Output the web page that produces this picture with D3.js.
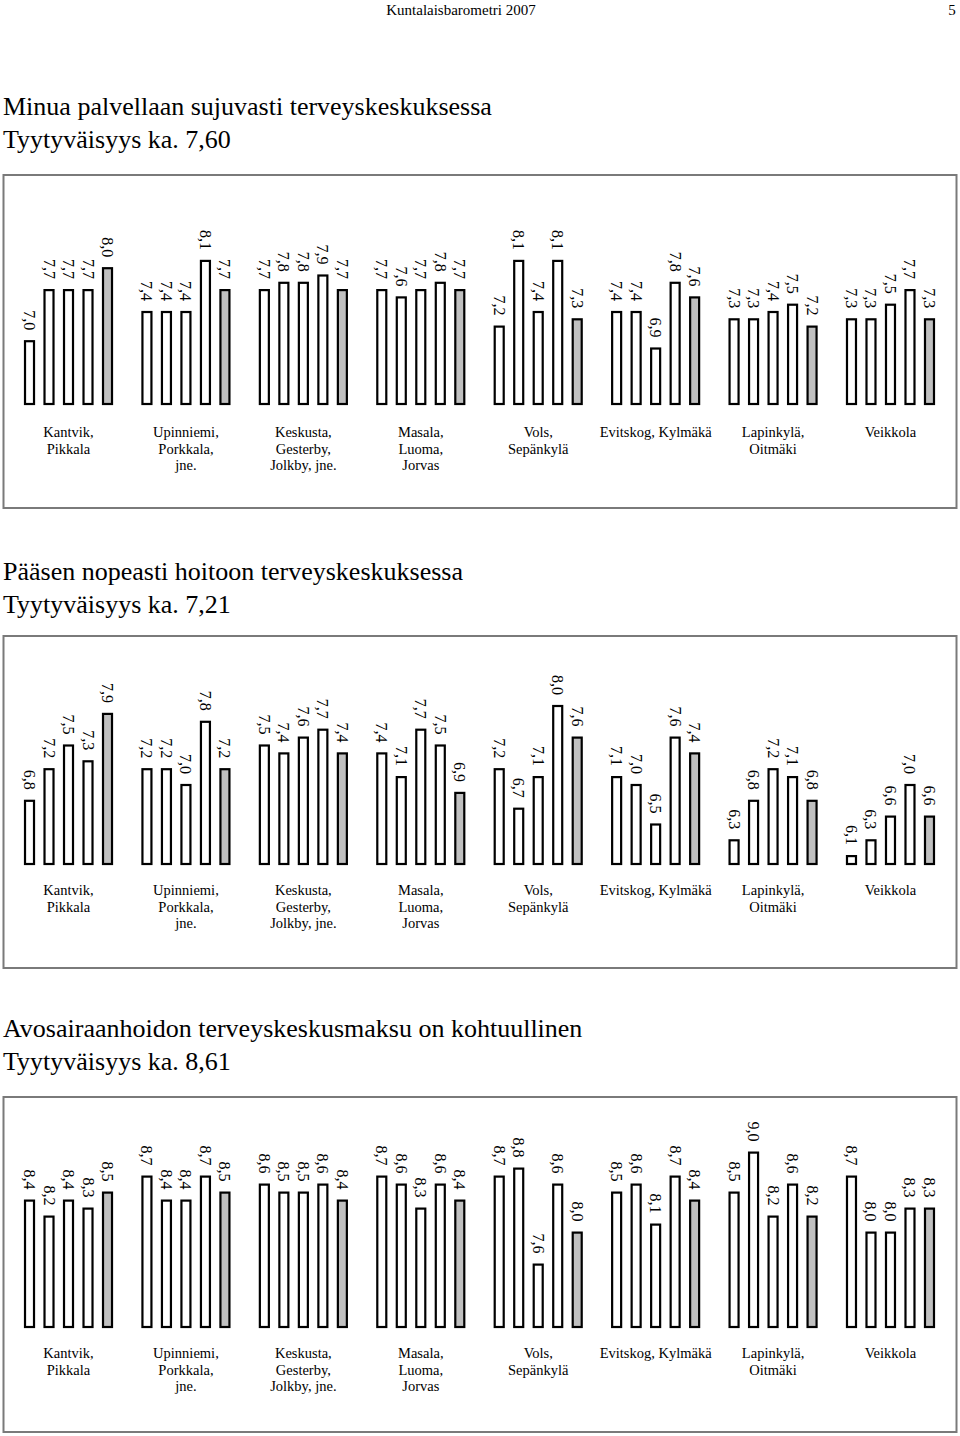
<!DOCTYPE html>
<html><head><meta charset="utf-8">
<script src="https://cdn.jsdelivr.net/npm/d3@7"></script>
<style>
html,body{margin:0;padding:0;background:#fff;}
svg text{font-family:"Liberation Serif","Times New Roman",serif;fill:#000;}
</style></head>
<body>
<svg id="page" width="960" height="1436"></svg>
<script>
// ---------- DATA ----------
const header = "Kuntalaisbarometri 2007";
const pageNumber = "5";
const categories = [
  "Kantvik,\nPikkala",
  "Upinniemi,\nPorkkala,\njne.",
  "Keskusta,\nGesterby,\nJolkby, jne.",
  "Masala,\nLuoma,\nJorvas",
  "Vols,\nSepänkylä",
  "Evitskog, Kylmäkä",
  "Lapinkylä,\nOitmäki",
  "Veikkola"
];
const titles1 = ["Minua palvellaan sujuvasti terveyskeskuksessa", "Tyytyväisyys ka.  7,60"];
const titles2 = ["Pääsen nopeasti hoitoon terveyskeskuksessa", "Tyytyväisyys ka.  7,21"];
const titles3 = ["Avosairaanhoidon terveyskeskusmaksu on kohtuullinen", "Tyytyväisyys ka.  8,61"];

const values1 = [
  [7.0, 7.7, 7.7, 7.7, 8.0],
  [7.4, 7.4, 7.4, 8.1, 7.7],
  [7.7, 7.8, 7.8, 7.9, 7.7],
  [7.7, 7.6, 7.7, 7.8, 7.7],
  [7.2, 8.1, 7.4, 8.1, 7.3],
  [7.4, 7.4, 6.9, 7.8, 7.6],
  [7.3, 7.3, 7.4, 7.5, 7.2],
  [7.3, 7.3, 7.5, 7.7, 7.3]
];
const values2 = [
  [6.8, 7.2, 7.5, 7.3, 7.9],
  [7.2, 7.2, 7.0, 7.8, 7.2],
  [7.5, 7.4, 7.6, 7.7, 7.4],
  [7.4, 7.1, 7.7, 7.5, 6.9],
  [7.2, 6.7, 7.1, 8.0, 7.6],
  [7.1, 7.0, 6.5, 7.6, 7.4],
  [6.3, 6.8, 7.2, 7.1, 6.8],
  [6.1, 6.3, 6.6, 7.0, 6.6]
];
const values3 = [
  [8.4, 8.2, 8.4, 8.3, 8.5],
  [8.7, 8.4, 8.4, 8.7, 8.5],
  [8.6, 8.5, 8.5, 8.6, 8.4],
  [8.7, 8.6, 8.3, 8.6, 8.4],
  [8.7, 8.8, 7.6, 8.6, 8.0],
  [8.5, 8.6, 8.1, 8.7, 8.4],
  [8.5, 9.0, 8.2, 8.6, 8.2],
  [8.7, 8.0, 8.0, 8.3, 8.3]
];
const barIndex = [0, 1, 2, 3, 4];

// ---------- DRAW ----------
const svg = d3.select("#page");
svg.append("text").attr("x", 461).attr("y", 15).attr("text-anchor", "middle")
  .style("font-size", "15px").text(header);
svg.append("text").attr("x", 952).attr("y", 15).attr("text-anchor", "middle")
  .style("font-size", "15px").text(pageNumber);

const fmt = v => d3.format(".1f")(v).replace(".", ",");

const x = d3.scaleBand().domain(categories).range([9.8, 949.2]).paddingInner(0).paddingOuter(0);
const xi = d3.scalePoint().domain(barIndex).range([-39, 39]);
const barW = 9;

function drawChart(cfg) {
  const g = svg.append("g");
  // titles
  cfg.titles.forEach((t, i) => {
    g.append("text").attr("x", 3).attr("y", cfg.titleY + i * 33)
      .style("font-size", "26px").text(t);
  });
  // frame
  g.append("rect").attr("x", 3.5).attr("y", cfg.frameTop)
    .attr("width", 953).attr("height", cfg.frameBottom - cfg.frameTop)
    .attr("fill", "none").attr("stroke", "#7a7a7a").attr("stroke-width", 2);

  const y = d3.scaleLinear().domain(cfg.domain).range([cfg.base, cfg.top]);

  const groups = g.selectAll("g.grp").data(cfg.values).join("g")
    .attr("class", "grp")
    .attr("transform", (d, i) => `translate(${x(categories[i]) + x.bandwidth() / 2},0)`);

  groups.selectAll("rect").data(d => d.map((v, k) => ({v, k}))).join("rect")
    .attr("x", d => xi(d.k) - barW / 2)
    .attr("y", d => y(d.v))
    .attr("width", barW)
    .attr("height", d => cfg.base - y(d.v))
    .attr("fill", d => d.k === 4 ? "#c0c0c0" : "#fff")
    .attr("stroke", "#000").attr("stroke-width", 2.2);

  groups.selectAll("text.val").data(d => d.map((v, k) => ({v, k}))).join("text")
    .attr("class", "val")
    .attr("transform", d => `translate(${xi(d.k)},${y(d.v) - 11}) rotate(90)`)
    .attr("text-anchor", "end")
    .attr("dominant-baseline", "central")
    .style("font-size", "16px")
    .text(d => fmt(d.v));

  // category labels
  categories.forEach(c => {
    const lines = c.split("\n");
    const t = g.append("text").attr("text-anchor", "middle").style("font-size", "14.5px");
    lines.forEach((ln, j) => {
      t.append("tspan").attr("x", x(c) + x.bandwidth() / 2)
        .attr("y", cfg.catY + j * 16.5).text(ln);
    });
  });
}

drawChart({titles: titles1, titleY: 115, frameTop: 175, frameBottom: 508,
  values: values1, domain: [6.14, 8.2], base: 404, top: 253.6, catY: 437});
drawChart({titles: titles2, titleY: 580, frameTop: 636, frameBottom: 968,
  values: values2, domain: [6.0, 8.0], base: 864, top: 706, catY: 895});
drawChart({titles: titles3, titleY: 1037, frameTop: 1097, frameBottom: 1432,
  values: values3, domain: [6.82, 9.0], base: 1327, top: 1152.6, catY: 1358});
</script>
</body></html>
